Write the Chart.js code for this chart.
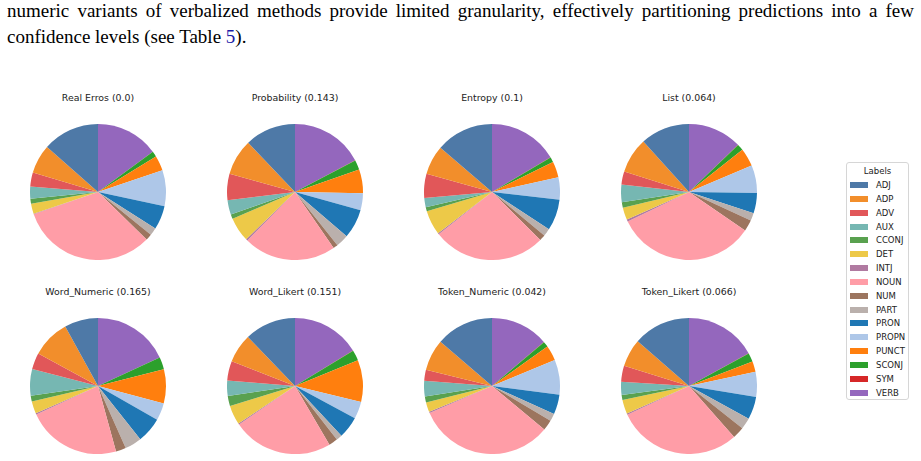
<!DOCTYPE html>
<html>
<head>
<meta charset="utf-8">
<script src="https://cdn.jsdelivr.net/npm/chart.js@4.4.1/dist/chart.umd.min.js"></script>
<style>
  body { margin:0; background:#fff; width:921px; height:461px; overflow:hidden; position:relative; }
  .para { position:absolute; left:7px; font-family:'Liberation Serif','Times New Roman',serif; font-size:19px; color:#000; white-space:nowrap; }
  .para a { color:#1a1aa6; text-decoration:none; }
  .ttl { position:absolute; width:200px; margin-left:-100px; text-align:center; font-family:'DejaVu Sans',sans-serif; font-size:9.4px; color:#222; }
  .pie { position:absolute; }
  #legend { position:absolute; left:846px; top:162px; width:63px; height:238px; border:1px solid #d6d6d6; border-radius:3px; box-sizing:border-box; font-family:'DejaVu Sans',sans-serif; font-size:8.5px; color:#222; }
  #legend .lt { position:absolute; top:3px; width:100%; text-align:center; }
  #legend .sw { position:absolute; left:3px; width:18px; height:6px; }
  #legend .lb { position:absolute; left:29px; line-height:10px; }
</style>
</head>
<body>

<div class="para" style="top:0px;width:907px;text-align:justify;text-align-last:justify">numeric variants of verbalized methods provide limited granularity, effectively partitioning predictions into a few</div>
<div class="para" style="top:26px">confidence levels (see Table <a>5</a>).</div>

<div id="legend"><div class="lt">Labels</div></div>

<script>
// ============================================
// DADOS
// ============================================

const labels = ['ADJ','ADP','ADV','AUX','CCONJ','DET','INTJ','NOUN','NUM','PART','PRON','PROPN','PUNCT','SCONJ','SYM','VERB'];
const colors = ['#4e79a7','#f28e2b','#e15759','#76b7b2','#59a14f','#edc948','#b07aa1','#ff9da7','#9c755f','#bab0ac',
                '#1f77b4','#aec7e8','#ff7f0e','#2ca02c','#d62728','#9467bd'];

const titles = ['Real Erros (0.0)','Probability (0.143)','Entropy (0.1)','List (0.064)',
                'Word_Numeric (0.165)','Word_Likert (0.151)','Token_Numeric (0.042)','Token_Likert (0.066)'];

// percentages, one per label
const realErros    = [13.5, 6.9, 3.3, 2.9, 1.2, 2.4, 0.1, 32.4, 1.5, 1.8, 5.7, 8.5, 3.6, 1.3, 0.05, 14.9];
const probability  = [12.1, 8.6, 6.3, 3.4, 1.1, 5.8, 0.4, 22.0, 1.1, 3.0, 7.0, 4.0, 5.7, 2.3, 0.05, 17.3];
const entropy      = [13.7, 7.0, 5.7, 2.2, 1.0, 5.8, 0.3, 26.9, 1.4, 1.8, 7.4, 5.3, 3.8, 1.2, 0.05, 16.5];
const listVals     = [11.7, 8.4, 3.1, 4.2, 1.3, 2.9, 0.5, 33.3, 2.7, 1.8, 4.8, 6.6, 4.3, 1.5, 0.05, 12.8];
const wordNumeric  = [ 8.0, 9.1, 3.9, 6.3, 1.4, 2.9, 0.3, 22.4, 2.4, 4.0, 6.1, 4.1, 8.1, 2.9, 0.05, 18.1];
const wordLikert   = [12.2, 6.9, 4.7, 3.6, 2.4, 4.6, 0.3, 23.9, 2.1, 1.4, 5.2, 4.1, 10.0, 2.5, 0.05, 16.3];
const tokenNumeric = [13.7, 7.5, 2.6, 3.7, 1.4, 2.3, 0.3, 32.5, 2.5, 1.8, 4.7, 8.3, 3.6, 1.3, 0.05, 13.8];
const tokenLikert  = [13.6, 6.6, 3.8, 3.1, 1.2, 3.3, 0.3, 29.6, 2.8, 2.7, 5.4, 5.9, 2.5, 2.1, 0.05, 17.0];

const series = [realErros, probability, entropy, listVals, wordNumeric, wordLikert, tokenNumeric, tokenLikert];

// ============================================
// LAYOUT
// ============================================

const colX  = [98, 295, 492, 689];
const rowY  = [192, 386];
const titleY = [92, 286];
const R = 68;

// matplotlib goes counterclockwise from 12h; Chart.js clockwise -> reverse order
const rev = a => a.slice().reverse();

series.forEach((vals, i) => {
  const cx = colX[i % 4];
  const cy = rowY[Math.floor(i / 4)];

  const t = document.createElement('div');
  t.className = 'ttl';
  t.style.left = cx + 'px';
  t.style.top  = titleY[Math.floor(i / 4)] + 'px';
  t.textContent = titles[i];
  document.body.appendChild(t);

  const c = document.createElement('canvas');
  c.className = 'pie';
  c.width = R * 2; c.height = R * 2;
  c.style.left = (cx - R) + 'px';
  c.style.top  = (cy - R) + 'px';
  document.body.appendChild(c);

  new Chart(c.getContext('2d'), {
    type: 'pie',
    data: {
      labels: rev(labels),
      datasets: [{
        data: rev(vals),
        backgroundColor: rev(colors),
        borderWidth: 0,
      }],
    },
    options: {
      responsive: false,
      animation: false,
      devicePixelRatio: 1,
      layout: { padding: 0 },
      plugins: { legend: { display: false }, tooltip: { enabled: false } },
    },
  });
});

// legenda
const leg = document.getElementById('legend');
labels.forEach((lab, i) => {
  const y = 22 + i * 13.84;
  const sw = document.createElement('div');
  sw.className = 'sw';
  sw.style.top = (y - 3) + 'px';
  sw.style.background = colors[i];
  leg.appendChild(sw);
  const tx = document.createElement('div');
  tx.className = 'lb';
  tx.style.top = (y - 5) + 'px';
  tx.textContent = lab;
  leg.appendChild(tx);
});
</script>
</body>
</html>
